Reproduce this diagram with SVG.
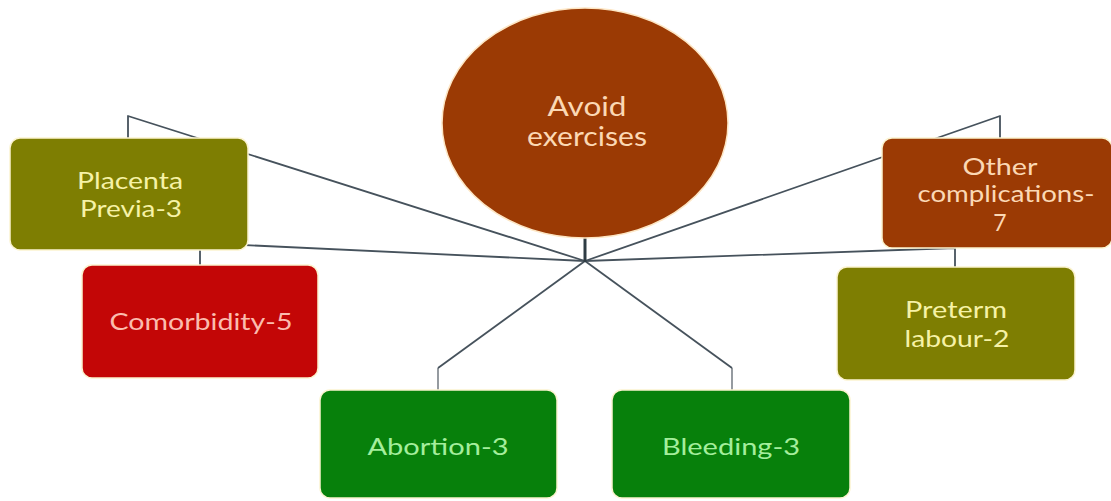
<svg xmlns="http://www.w3.org/2000/svg" width="1111" height="501" viewBox="0 0 1111 501">
<style>
.box{stroke:#fbf3cf;stroke-width:1.5}
.t{font-family:Lato,"Liberation Sans",sans-serif;font-size:23px;text-anchor:middle}
.c{font-size:26px}
.conn{fill:none;stroke:#46525c;stroke-width:1.8;stroke-linejoin:round}
.conn2{fill:none;stroke:#8a9096;stroke-width:1.8;stroke-linejoin:round}
</style>
<rect width="1111" height="501" fill="#ffffff"/>
<g id="connectors">
<polyline class="conn" points="128,138 128,116 585,261"/>
<polyline class="conn" points="1000,138 1000,116 585,261"/>
<polyline class="conn" points="200,265 200,243 585,261"/>
<polyline class="conn" points="955,267 955,248 585,261"/>
<polyline class="conn2" points="438,390 438,368"/>
<polyline class="conn" points="438,368 585,261"/>
<polyline class="conn2" points="732,390 732,368"/>
<polyline class="conn" points="732,368 585,261"/>
<line x1="585" y1="236" x2="585" y2="262" stroke="#2f3c44" stroke-width="3"/>
</g>
<g id="center">
<ellipse cx="585" cy="123" rx="143" ry="115" fill="#9b3a04" stroke="#fde6c4" stroke-width="1.5"/>
<text class="t c" x="587" y="116" fill="#fbd8b4" textLength="79" lengthAdjust="spacingAndGlyphs">Avoid</text>
<text class="t c" x="587" y="146" fill="#fbd8b4" textLength="120" lengthAdjust="spacingAndGlyphs">exercises</text>
</g>
<g id="placenta">
<rect class="box" x="10" y="138" width="238" height="112" rx="10" fill="#7e7e02"/>
<text class="t" x="130" y="189" fill="#f6f2a6" textLength="106" lengthAdjust="spacingAndGlyphs">Placenta</text>
<text class="t" x="131" y="217" fill="#f6f2a6" textLength="102" lengthAdjust="spacingAndGlyphs">Previa-3</text>
</g>
<g id="comorbidity">
<rect class="box" x="82" y="265" width="236" height="113" rx="10" fill="#c30606"/>
<text class="t" x="201" y="330" fill="#fbbcae" textLength="183" lengthAdjust="spacingAndGlyphs">Comorbidity-5</text>
</g>
<g id="other">
<rect class="box" x="882" y="138" width="230" height="110" rx="10" fill="#9b3a04"/>
<text class="t" x="1000" y="175" fill="#fbd8b4" textLength="75" lengthAdjust="spacingAndGlyphs">Other</text>
<text class="t" x="1006" y="202" fill="#fbd8b4" textLength="177" lengthAdjust="spacingAndGlyphs">complications-</text>
<text class="t" x="1000" y="231" fill="#fbd8b4">7</text>
</g>
<g id="preterm">
<rect class="box" x="837" y="267" width="238" height="113" rx="10" fill="#7e7e02"/>
<text class="t" x="956" y="318" fill="#f6f2a6" textLength="102" lengthAdjust="spacingAndGlyphs">Preterm</text>
<text class="t" x="957" y="347" fill="#f6f2a6" textLength="105" lengthAdjust="spacingAndGlyphs">labour-2</text>
</g>
<g id="abortion">
<rect class="box" x="320" y="390" width="237" height="108" rx="10" fill="#07800b"/>
<text class="t" x="438" y="455" fill="#a4ee9c" textLength="141" lengthAdjust="spacingAndGlyphs">Abortion-3</text>
</g>
<g id="bleeding">
<rect class="box" x="612" y="390" width="238" height="108" rx="10" fill="#07800b"/>
<text class="t" x="731" y="455" fill="#a4ee9c" textLength="138" lengthAdjust="spacingAndGlyphs">Bleeding-3</text>
</g>
</svg>
